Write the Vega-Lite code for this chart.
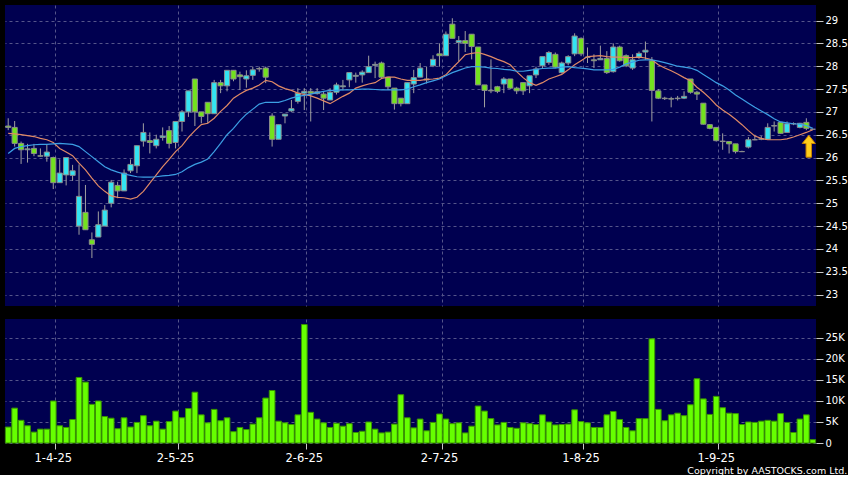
{
"$schema":"https://vega.github.io/schema/vega-lite/v6.json",
"background":"#000000",
"padding":{"top":5,"left":4,"right":0,"bottom":0},
"autosize":{"type":"pad"},
"config":{"view":{"stroke":null,"fill":"#000050"},
"axis":{"labelFont":"DejaVu Sans","labelColor":"#ffffff","labelFontSize":10,"tickColor":"#c8c8c8","domain":false,"gridColor":"#55558a","gridDash":[3,3],"gridWidth":1,"title":null,"labelOverlap":false}},
"title":{"text":"Copyright by AASTOCKS.com Ltd.","orient":"bottom","anchor":"end","frame":"bounds","font":"DejaVu Sans","fontSize":9.5,"fontWeight":"normal","color":"#ffffff","offset":2},
"datasets":{"p":[
{"d":"2025-03-21","o":26.69,"h":26.86,"l":26.60,"c":26.66,"v":3800,"m1":26.53,"m2":26.09},
{"d":"2025-03-24","o":26.66,"h":26.80,"l":26.24,"c":26.31,"v":8300,"m1":26.52,"m2":26.20},
{"d":"2025-03-25","o":26.31,"h":26.35,"l":25.86,"c":26.17,"v":5400,"m1":26.50,"m2":26.24},
{"d":"2025-03-26","o":26.17,"h":26.30,"l":25.89,"c":26.19,"v":4100,"m1":26.48,"m2":26.26},
{"d":"2025-03-27","o":26.20,"h":26.30,"l":26.03,"c":26.09,"v":2600,"m1":26.46,"m2":26.28},
{"d":"2025-03-28","o":26.04,"h":26.20,"l":26.02,"c":26.03,"v":3300,"m1":26.42,"m2":26.29},
{"d":"2025-03-31","o":26.03,"h":26.28,"l":25.91,"c":26.12,"v":3300,"m1":26.39,"m2":26.29},
{"d":"2025-04-01","o":26.00,"h":26.02,"l":25.31,"c":25.45,"v":10000,"m1":26.33,"m2":26.30},
{"d":"2025-04-02","o":25.45,"h":25.96,"l":25.45,"c":25.66,"v":4100,"m1":26.20,"m2":26.31},
{"d":"2025-04-03","o":25.62,"h":26.00,"l":25.39,"c":26.00,"v":3700,"m1":26.12,"m2":26.30},
{"d":"2025-04-07","o":25.61,"h":25.84,"l":25.49,"c":25.71,"v":5600,"m1":26.04,"m2":26.29},
{"d":"2025-04-08","o":24.50,"h":25.85,"l":24.31,"c":25.15,"v":15600,"m1":25.88,"m2":26.24},
{"d":"2025-04-09","o":24.80,"h":25.40,"l":24.42,"c":24.42,"v":14500,"m1":25.73,"m2":26.13},
{"d":"2025-04-10","o":24.20,"h":24.36,"l":23.80,"c":24.10,"v":9200,"m1":25.55,"m2":26.02},
{"d":"2025-04-11","o":24.26,"h":24.82,"l":24.26,"c":24.53,"v":10000,"m1":25.38,"m2":25.91},
{"d":"2025-04-14","o":24.50,"h":24.96,"l":24.50,"c":24.85,"v":6300,"m1":25.26,"m2":25.80},
{"d":"2025-04-15","o":25.00,"h":25.51,"l":24.91,"c":25.46,"v":5900,"m1":25.16,"m2":25.73},
{"d":"2025-04-16","o":25.39,"h":25.47,"l":25.11,"c":25.27,"v":3400,"m1":25.13,"m2":25.68},
{"d":"2025-04-17","o":25.27,"h":25.74,"l":25.27,"c":25.66,"v":6000,"m1":25.12,"m2":25.64},
{"d":"2025-04-22","o":25.71,"h":25.96,"l":25.66,"c":25.85,"v":3800,"m1":25.09,"m2":25.61},
{"d":"2025-04-23","o":25.82,"h":26.26,"l":25.66,"c":26.26,"v":4900,"m1":25.13,"m2":25.58},
{"d":"2025-04-24","o":26.36,"h":26.75,"l":26.24,"c":26.55,"v":6500,"m1":25.26,"m2":25.57},
{"d":"2025-04-25","o":26.37,"h":26.55,"l":26.09,"c":26.33,"v":4100,"m1":25.44,"m2":25.57},
{"d":"2025-04-28","o":26.26,"h":26.50,"l":26.20,"c":26.40,"v":5200,"m1":25.62,"m2":25.58},
{"d":"2025-04-29","o":26.44,"h":26.66,"l":26.37,"c":26.47,"v":3300,"m1":25.80,"m2":25.60},
{"d":"2025-04-30","o":26.59,"h":26.69,"l":26.20,"c":26.31,"v":5100,"m1":25.96,"m2":25.61},
{"d":"2025-05-02","o":26.33,"h":26.79,"l":26.20,"c":26.79,"v":7600,"m1":26.13,"m2":25.63},
{"d":"2025-05-06","o":26.79,"h":27.04,"l":26.57,"c":27.00,"v":6000,"m1":26.26,"m2":25.69},
{"d":"2025-05-07","o":27.00,"h":27.46,"l":26.89,"c":27.46,"v":8200,"m1":26.44,"m2":25.78},
{"d":"2025-05-08","o":27.72,"h":27.72,"l":26.69,"c":27.00,"v":12100,"m1":26.59,"m2":25.85},
{"d":"2025-05-09","o":27.00,"h":27.00,"l":26.75,"c":26.90,"v":6700,"m1":26.72,"m2":25.90},
{"d":"2025-05-12","o":27.21,"h":27.21,"l":26.75,"c":26.96,"v":4800,"m1":26.75,"m2":25.97},
{"d":"2025-05-13","o":26.96,"h":27.70,"l":26.96,"c":27.64,"v":8000,"m1":26.86,"m2":26.13},
{"d":"2025-05-14","o":27.64,"h":27.70,"l":27.41,"c":27.57,"v":5300,"m1":27.01,"m2":26.31},
{"d":"2025-05-15","o":27.57,"h":27.91,"l":27.45,"c":27.91,"v":6000,"m1":27.14,"m2":26.50},
{"d":"2025-05-16","o":27.91,"h":27.91,"l":27.67,"c":27.72,"v":2700,"m1":27.30,"m2":26.64},
{"d":"2025-05-19","o":27.81,"h":27.88,"l":27.48,"c":27.77,"v":3700,"m1":27.39,"m2":26.81},
{"d":"2025-05-20","o":27.72,"h":27.91,"l":27.53,"c":27.79,"v":3200,"m1":27.47,"m2":26.95},
{"d":"2025-05-21","o":27.80,"h":27.99,"l":27.70,"c":27.92,"v":4500,"m1":27.52,"m2":27.06},
{"d":"2025-05-22","o":27.95,"h":27.99,"l":27.88,"c":27.94,"v":6000,"m1":27.59,"m2":27.17},
{"d":"2025-05-23","o":27.96,"h":27.99,"l":27.63,"c":27.76,"v":10700,"m1":27.69,"m2":27.21},
{"d":"2025-05-26","o":26.91,"h":26.97,"l":26.24,"c":26.40,"v":12500,"m1":27.66,"m2":27.21},
{"d":"2025-05-27","o":26.40,"h":26.72,"l":26.40,"c":26.72,"v":5200,"m1":27.57,"m2":27.21},
{"d":"2025-05-28","o":26.91,"h":26.95,"l":26.75,"c":26.95,"v":4800,"m1":27.51,"m2":27.25},
{"d":"2025-05-29","o":27.02,"h":27.26,"l":27.00,"c":27.07,"v":4400,"m1":27.47,"m2":27.30},
{"d":"2025-05-30","o":27.23,"h":27.52,"l":27.18,"c":27.41,"v":6700,"m1":27.41,"m2":27.34},
{"d":"2025-06-02","o":27.41,"h":27.52,"l":27.04,"c":27.45,"v":28200,"m1":27.38,"m2":27.36},
{"d":"2025-06-03","o":27.45,"h":27.52,"l":26.79,"c":27.41,"v":7300,"m1":27.35,"m2":27.39},
{"d":"2025-06-04","o":27.40,"h":27.52,"l":27.38,"c":27.44,"v":5700,"m1":27.30,"m2":27.42},
{"d":"2025-06-05","o":27.39,"h":27.45,"l":27.04,"c":27.30,"v":4800,"m1":27.24,"m2":27.45},
{"d":"2025-06-06","o":27.26,"h":27.52,"l":27.26,"c":27.43,"v":3700,"m1":27.18,"m2":27.47},
{"d":"2025-06-09","o":27.43,"h":27.64,"l":27.38,"c":27.59,"v":4700,"m1":27.26,"m2":27.47},
{"d":"2025-06-10","o":27.55,"h":27.70,"l":27.47,"c":27.57,"v":4000,"m1":27.34,"m2":27.48},
{"d":"2025-06-11","o":27.70,"h":27.86,"l":27.54,"c":27.86,"v":4600,"m1":27.41,"m2":27.48},
{"d":"2025-06-12","o":27.78,"h":27.86,"l":27.64,"c":27.80,"v":2500,"m1":27.52,"m2":27.49},
{"d":"2025-06-13","o":27.81,"h":27.91,"l":27.64,"c":27.87,"v":2800,"m1":27.57,"m2":27.50},
{"d":"2025-06-16","o":27.86,"h":28.23,"l":27.86,"c":27.99,"v":5000,"m1":27.61,"m2":27.50},
{"d":"2025-06-17","o":28.02,"h":28.10,"l":27.74,"c":28.04,"v":3300,"m1":27.64,"m2":27.49},
{"d":"2025-06-18","o":28.07,"h":28.10,"l":27.74,"c":27.76,"v":2400,"m1":27.73,"m2":27.48},
{"d":"2025-06-19","o":27.76,"h":27.76,"l":27.48,"c":27.55,"v":2600,"m1":27.76,"m2":27.48},
{"d":"2025-06-20","o":27.52,"h":27.52,"l":27.05,"c":27.18,"v":4500,"m1":27.76,"m2":27.48},
{"d":"2025-06-23","o":27.30,"h":27.30,"l":27.12,"c":27.18,"v":11500,"m1":27.72,"m2":27.48},
{"d":"2025-06-24","o":27.18,"h":27.64,"l":27.18,"c":27.64,"v":6000,"m1":27.69,"m2":27.50},
{"d":"2025-06-25","o":27.61,"h":27.92,"l":27.41,"c":27.75,"v":3600,"m1":27.69,"m2":27.55},
{"d":"2025-06-26","o":27.76,"h":28.07,"l":27.76,"c":27.96,"v":5700,"m1":27.69,"m2":27.59},
{"d":"2025-06-27","o":27.72,"h":27.99,"l":27.62,"c":27.70,"v":2900,"m1":27.71,"m2":27.64},
{"d":"2025-06-30","o":28.01,"h":28.24,"l":27.98,"c":28.15,"v":4900,"m1":27.72,"m2":27.68},
{"d":"2025-07-02","o":28.27,"h":28.50,"l":27.99,"c":28.23,"v":6900,"m1":27.74,"m2":27.72},
{"d":"2025-07-03","o":28.23,"h":28.76,"l":28.23,"c":28.70,"v":5700,"m1":27.81,"m2":27.79},
{"d":"2025-07-04","o":28.92,"h":29.05,"l":28.61,"c":28.61,"v":4600,"m1":27.96,"m2":27.86},
{"d":"2025-07-07","o":28.52,"h":28.66,"l":28.10,"c":28.56,"v":4800,"m1":28.10,"m2":27.91},
{"d":"2025-07-08","o":28.56,"h":28.77,"l":28.31,"c":28.50,"v":2400,"m1":28.25,"m2":27.96},
{"d":"2025-07-09","o":28.70,"h":28.70,"l":28.15,"c":28.43,"v":4000,"m1":28.28,"m2":27.99},
{"d":"2025-07-10","o":28.42,"h":28.42,"l":27.59,"c":27.59,"v":8800,"m1":28.30,"m2":27.99},
{"d":"2025-07-11","o":27.59,"h":27.59,"l":27.10,"c":27.47,"v":7600,"m1":28.26,"m2":27.98},
{"d":"2025-07-14","o":27.47,"h":28.15,"l":27.41,"c":27.46,"v":5800,"m1":28.21,"m2":27.96},
{"d":"2025-07-15","o":27.55,"h":27.57,"l":27.41,"c":27.45,"v":4300,"m1":28.15,"m2":27.95},
{"d":"2025-07-16","o":27.61,"h":27.76,"l":27.41,"c":27.72,"v":4900,"m1":28.10,"m2":27.93},
{"d":"2025-07-17","o":27.72,"h":27.72,"l":27.50,"c":27.52,"v":3700,"m1":28.03,"m2":27.92},
{"d":"2025-07-18","o":27.52,"h":27.55,"l":27.39,"c":27.46,"v":3500,"m1":27.88,"m2":27.89},
{"d":"2025-07-21","o":27.64,"h":27.64,"l":27.37,"c":27.46,"v":4800,"m1":27.75,"m2":27.89},
{"d":"2025-07-22","o":27.57,"h":27.79,"l":27.41,"c":27.79,"v":4600,"m1":27.64,"m2":27.91},
{"d":"2025-07-23","o":27.81,"h":27.99,"l":27.74,"c":27.94,"v":4400,"m1":27.58,"m2":27.93},
{"d":"2025-07-24","o":28.01,"h":28.21,"l":27.96,"c":28.21,"v":6700,"m1":27.64,"m2":27.95},
{"d":"2025-07-25","o":28.08,"h":28.33,"l":28.03,"c":28.30,"v":5000,"m1":27.72,"m2":27.96},
{"d":"2025-07-28","o":28.26,"h":28.30,"l":27.96,"c":27.98,"v":4300,"m1":27.77,"m2":27.96},
{"d":"2025-07-29","o":27.86,"h":28.10,"l":27.84,"c":28.07,"v":4400,"m1":27.82,"m2":27.98},
{"d":"2025-07-30","o":28.07,"h":28.24,"l":28.02,"c":28.21,"v":4500,"m1":27.92,"m2":27.99},
{"d":"2025-07-31","o":28.27,"h":28.72,"l":28.22,"c":28.66,"v":7900,"m1":28.03,"m2":27.97},
{"d":"2025-08-01","o":28.61,"h":28.63,"l":28.22,"c":28.27,"v":5100,"m1":28.12,"m2":27.96},
{"d":"2025-08-04","o":28.20,"h":28.41,"l":28.07,"c":28.19,"v":4800,"m1":28.21,"m2":27.94},
{"d":"2025-08-05","o":28.14,"h":28.26,"l":27.96,"c":28.12,"v":3700,"m1":28.22,"m2":27.92},
{"d":"2025-08-06","o":28.14,"h":28.45,"l":28.14,"c":28.17,"v":3700,"m1":28.23,"m2":27.92},
{"d":"2025-08-07","o":28.17,"h":28.33,"l":27.83,"c":27.86,"v":6700,"m1":28.21,"m2":27.92},
{"d":"2025-08-08","o":27.88,"h":28.50,"l":27.86,"c":28.42,"v":7500,"m1":28.20,"m2":27.93},
{"d":"2025-08-11","o":28.42,"h":28.45,"l":28.10,"c":28.12,"v":5600,"m1":28.20,"m2":27.98},
{"d":"2025-08-12","o":28.23,"h":28.26,"l":27.98,"c":28.01,"v":3700,"m1":28.19,"m2":28.05},
{"d":"2025-08-13","o":27.96,"h":28.26,"l":27.92,"c":28.14,"v":2900,"m1":28.19,"m2":28.09},
{"d":"2025-08-14","o":28.20,"h":28.32,"l":28.16,"c":28.28,"v":5800,"m1":28.20,"m2":28.13},
{"d":"2025-08-15","o":28.31,"h":28.54,"l":28.14,"c":28.35,"v":5800,"m1":28.18,"m2":28.14},
{"d":"2025-08-18","o":28.12,"h":28.20,"l":26.79,"c":27.47,"v":24800,"m1":28.14,"m2":28.14},
{"d":"2025-08-19","o":27.46,"h":27.50,"l":27.28,"c":27.30,"v":8000,"m1":28.03,"m2":28.11},
{"d":"2025-08-20","o":27.30,"h":27.33,"l":27.26,"c":27.29,"v":5300,"m1":27.96,"m2":28.08},
{"d":"2025-08-21","o":27.29,"h":27.33,"l":27.10,"c":27.28,"v":6700,"m1":27.90,"m2":28.04},
{"d":"2025-08-22","o":27.29,"h":27.35,"l":27.25,"c":27.30,"v":7100,"m1":27.83,"m2":28.00},
{"d":"2025-08-25","o":27.30,"h":27.45,"l":27.28,"c":27.34,"v":6500,"m1":27.75,"m2":27.98},
{"d":"2025-08-26","o":27.72,"h":27.72,"l":27.40,"c":27.43,"v":9100,"m1":27.68,"m2":27.96},
{"d":"2025-08-27","o":27.43,"h":27.46,"l":27.26,"c":27.39,"v":15300,"m1":27.54,"m2":27.91},
{"d":"2025-08-28","o":27.19,"h":27.19,"l":26.72,"c":26.73,"v":10500,"m1":27.43,"m2":27.82},
{"d":"2025-08-29","o":26.72,"h":26.73,"l":26.62,"c":26.64,"v":6800,"m1":27.30,"m2":27.73},
{"d":"2025-09-01","o":26.66,"h":26.66,"l":26.35,"c":26.37,"v":11100,"m1":27.15,"m2":27.64},
{"d":"2025-09-02","o":26.36,"h":26.53,"l":26.17,"c":26.35,"v":8400,"m1":27.04,"m2":27.57},
{"d":"2025-09-03","o":26.35,"h":26.36,"l":26.09,"c":26.30,"v":7100,"m1":26.95,"m2":27.48},
{"d":"2025-09-04","o":26.30,"h":26.30,"l":26.09,"c":26.13,"v":7000,"m1":26.84,"m2":27.37},
{"d":"2025-09-05","o":26.13,"h":26.15,"l":26.12,"c":26.13,"v":4400,"m1":26.72,"m2":27.28},
{"d":"2025-09-08","o":26.23,"h":26.45,"l":26.20,"c":26.39,"v":5000,"m1":26.59,"m2":27.19},
{"d":"2025-09-09","o":26.39,"h":26.50,"l":26.38,"c":26.39,"v":4900,"m1":26.47,"m2":27.10},
{"d":"2025-09-10","o":26.40,"h":26.47,"l":26.38,"c":26.41,"v":5200,"m1":26.42,"m2":27.02},
{"d":"2025-09-11","o":26.40,"h":26.75,"l":26.39,"c":26.66,"v":5400,"m1":26.39,"m2":26.94},
{"d":"2025-09-12","o":26.69,"h":26.79,"l":26.57,"c":26.70,"v":5200,"m1":26.39,"m2":26.85},
{"d":"2025-09-15","o":26.77,"h":26.77,"l":26.52,"c":26.53,"v":7000,"m1":26.39,"m2":26.78},
{"d":"2025-09-16","o":26.55,"h":26.79,"l":26.55,"c":26.74,"v":4900,"m1":26.41,"m2":26.76},
{"d":"2025-09-17","o":26.74,"h":26.77,"l":26.71,"c":26.74,"v":2500,"m1":26.45,"m2":26.74},
{"d":"2025-09-18","o":26.66,"h":26.76,"l":26.64,"c":26.75,"v":5700,"m1":26.50,"m2":26.73},
{"d":"2025-09-19","o":26.77,"h":26.86,"l":26.60,"c":26.64,"v":6700,"m1":26.55,"m2":26.70},
{"d":"2025-09-22","o":26.62,"h":26.62,"l":26.62,"c":26.62,"v":800,"m1":26.61,"m2":26.64}
]},
"data":{"name":"p"},
"spacing":13,
"vconcat":[
{"width":811,"height":301,
"encoding":{"x":{"field":"d","type":"ordinal","scale":{"type":"band","paddingInner":0,"paddingOuter":0},
"axis":{"labels":false,"ticks":false,"domain":false,"grid":true,"bandPosition":0.9,"values":["2025-04-01","2025-05-02","2025-06-02","2025-07-02","2025-08-01","2025-09-01"]}}},
"layer":[
{"mark":{"type":"rule","color":"#a0a0a0","strokeWidth":1},
"encoding":{"y":{"field":"l","type":"quantitative","scale":{"domain":[22.75,29.34],"nice":false,"zero":false},
"axis":{"orient":"right","values":[23,23.5,24,24.5,25,25.5,26,26.5,27,27.5,28,28.5,29],"format":"~g","grid":true,"tickSize":7,"labelPadding":2}},"y2":{"field":"h"}}},
{"mark":{"type":"bar","width":{"band":0.8},"stroke":"#8c8c8c","strokeWidth":1},
"encoding":{"y":{"field":"o","type":"quantitative","axis":{"orient":"right","values":[23,23.5,24,24.5,25,25.5,26,26.5,27,27.5,28,28.5,29],"format":"~g","grid":true,"tickSize":7,"labelPadding":2}},"y2":{"field":"c"},
"fill":{"condition":{"test":"datum.c > datum.o","value":"#33e4f2"},"value":"#72e21e"}}},
{"mark":{"type":"line","color":"#e08a66","strokeWidth":1.2},"encoding":{"y":{"field":"m1","type":"quantitative","axis":{"orient":"right","values":[23,23.5,24,24.5,25,25.5,26,26.5,27,27.5,28,28.5,29],"format":"~g","grid":true,"tickSize":7,"labelPadding":2}}}},
{"mark":{"type":"line","color":"#3c9fe4","strokeWidth":1.2},"encoding":{"y":{"field":"m2","type":"quantitative","axis":{"orient":"right","values":[23,23.5,24,24.5,25,25.5,26,26.5,27,27.5,28,28.5,29],"format":"~g","grid":true,"tickSize":7,"labelPadding":2}}}},
{"transform":[{"filter":"datum.d == '2025-09-22'"}],
"mark":{"type":"point","shape":"M0,-1L0.6,-0.25L0.25,-0.25L0.25,1L-0.25,1L-0.25,-0.25L-0.6,-0.25Z","size":480,"filled":true,"fill":"#ffcc1a","stroke":"#c98400","strokeWidth":1,"opacity":1,"xOffset":-4,"yOffset":17},
"encoding":{"y":{"field":"c","type":"quantitative","axis":{"orient":"right","values":[23,23.5,24,24.5,25,25.5,26,26.5,27,27.5,28,28.5,29],"format":"~g","grid":true,"tickSize":7,"labelPadding":2}}}}
]},
{"width":811,"height":124,
"mark":{"type":"bar","width":{"band":0.88},"fill":"#66ff00","stroke":"#3a9400","strokeWidth":1},
"encoding":{
"x":{"field":"d","type":"ordinal","scale":{"type":"band","paddingInner":0,"paddingOuter":0},
"axis":{"grid":true,"bandPosition":0.9,"values":["2025-04-01","2025-05-02","2025-06-02","2025-07-02","2025-08-01","2025-09-01"],"labelExpr":"utcFormat(toDate(datum.value), '%-d-%-m-%y')","labelAngle":0,"labelFontSize":11.5,"tickSize":6,"labelPadding":3}},
"y":{"field":"v","type":"quantitative","scale":{"domain":[0,29520],"nice":false},
"axis":{"orient":"right","values":[0,5000,10000,15000,20000,25000],"labelExpr":"datum.value == 0 ? '0' : (datum.value/1000) + 'K'","grid":true,"tickSize":7,"labelPadding":2}}}}
]
}
